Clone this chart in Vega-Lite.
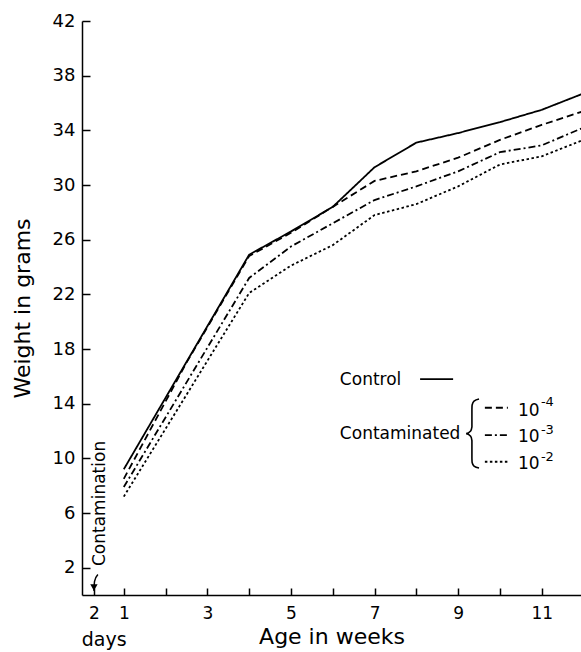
{
  "$schema": "https://vega.github.io/schema/vega-lite/v6.json",
  "autosize": {"type": "none"},
  "padding": {"left": 82, "top": 21, "right": 0, "bottom": 57},
  "width": 499,
  "height": 574,
  "background": "white",
  "config": {
    "view": {"stroke": null},
    "font": "DejaVu Sans",
    "axis": {"domainColor": "black", "tickColor": "black", "labelColor": "black", "titleColor": "black", "domainWidth": 1.5, "tickWidth": 1.5, "grid": false, "labelFont": "DejaVu Sans", "titleFont": "DejaVu Sans", "titleFontWeight": "normal", "labelFlush": false, "labelOverlap": false, "labelBound": false}
  },
  "datasets": {
    "series": [
      {"week": 1, "weight": 9.2, "group": "Control"},
      {"week": 4, "weight": 24.9, "group": "Control"},
      {"week": 5, "weight": 26.6, "group": "Control"},
      {"week": 6, "weight": 28.4, "group": "Control"},
      {"week": 7, "weight": 31.3, "group": "Control"},
      {"week": 8, "weight": 33.1, "group": "Control"},
      {"week": 9, "weight": 33.8, "group": "Control"},
      {"week": 10, "weight": 34.6, "group": "Control"},
      {"week": 11, "weight": 35.5, "group": "Control"},
      {"week": 12, "weight": 36.7, "group": "Control"},
      {"week": 1, "weight": 8.5, "group": "1e-4"},
      {"week": 2.5, "weight": 17.0, "group": "1e-4"},
      {"week": 4, "weight": 24.8, "group": "1e-4"},
      {"week": 5, "weight": 26.5, "group": "1e-4"},
      {"week": 6, "weight": 28.4, "group": "1e-4"},
      {"week": 7, "weight": 30.3, "group": "1e-4"},
      {"week": 8, "weight": 31.0, "group": "1e-4"},
      {"week": 9, "weight": 32.0, "group": "1e-4"},
      {"week": 10, "weight": 33.3, "group": "1e-4"},
      {"week": 11, "weight": 34.4, "group": "1e-4"},
      {"week": 12, "weight": 35.4, "group": "1e-4"},
      {"week": 1, "weight": 7.9, "group": "1e-3"},
      {"week": 4, "weight": 23.2, "group": "1e-3"},
      {"week": 5, "weight": 25.5, "group": "1e-3"},
      {"week": 6, "weight": 27.2, "group": "1e-3"},
      {"week": 7, "weight": 28.9, "group": "1e-3"},
      {"week": 8, "weight": 29.9, "group": "1e-3"},
      {"week": 9, "weight": 31.0, "group": "1e-3"},
      {"week": 10, "weight": 32.4, "group": "1e-3"},
      {"week": 11, "weight": 32.9, "group": "1e-3"},
      {"week": 12, "weight": 34.2, "group": "1e-3"},
      {"week": 1, "weight": 7.2, "group": "1e-2"},
      {"week": 4, "weight": 22.1, "group": "1e-2"},
      {"week": 5, "weight": 24.1, "group": "1e-2"},
      {"week": 6, "weight": 25.6, "group": "1e-2"},
      {"week": 7, "weight": 27.8, "group": "1e-2"},
      {"week": 8, "weight": 28.6, "group": "1e-2"},
      {"week": 9, "weight": 29.9, "group": "1e-2"},
      {"week": 10, "weight": 31.5, "group": "1e-2"},
      {"week": 11, "weight": 32.1, "group": "1e-2"},
      {"week": 12, "weight": 33.3, "group": "1e-2"}
    ],
    "legendLines": [
      {"group": "Control", "week": 8.09, "week2": 8.88, "weight": 15.8},
      {"group": "1e-4", "week": 9.64, "week2": 10.19, "weight": 13.7},
      {"group": "1e-3", "week": 9.64, "week2": 10.19, "weight": 11.7},
      {"group": "1e-2", "week": 9.64, "week2": 10.19, "weight": 9.75}
    ],
    "legendText": [
      {"label": "Control", "week": 6.17, "weight": 15.7},
      {"label": "Contaminated", "week": 6.17, "weight": 11.8},
      {"label": "10", "week": 10.43, "weight": 13.5},
      {"label": "10", "week": 10.43, "weight": 11.55},
      {"label": "10", "week": 10.43, "weight": 9.6}
    ],
    "exponents": [
      {"label": "-4", "week": 10.98, "weight": 14.1},
      {"label": "-3", "week": 10.98, "weight": 12.1},
      {"label": "-2", "week": 10.98, "weight": 10.1}
    ],
    "brace": [
      {"week": 9.50, "weight": 14.34, "order": 1},
      {"week": 9.38, "weight": 14.18, "order": 2},
      {"week": 9.335, "weight": 13.9, "order": 3},
      {"week": 9.33, "weight": 13.6, "order": 4},
      {"week": 9.33, "weight": 12.3, "order": 5},
      {"week": 9.30, "weight": 12.0, "order": 6},
      {"week": 9.19, "weight": 11.81, "order": 7},
      {"week": 9.30, "weight": 11.62, "order": 8},
      {"week": 9.33, "weight": 11.3, "order": 9},
      {"week": 9.33, "weight": 10.0, "order": 10},
      {"week": 9.335, "weight": 9.7, "order": 11},
      {"week": 9.38, "weight": 9.43, "order": 12},
      {"week": 9.50, "weight": 9.29, "order": 13}
    ],
    "contam": [{"label": "Contamination", "week": 0.43, "weight": 6.7}],
    "days": [{"label": "days", "week": 0.53, "weight": -3.3}],
    "arrow": [
      {"week": 0.38, "weight": 1.5, "order": 1},
      {"week": 0.30, "weight": 1.0, "order": 2},
      {"week": 0.2857, "weight": 0.3, "order": 3}
    ],
    "arrowHead": [{"week": 0.2857, "weight": 0.55}]
  },
  "encoding": {
    "x": {
      "field": "week", "type": "quantitative",
      "scale": {"domain": [0, 11.94], "nice": false, "zero": false},
      "axis": {
        "title": "Age in weeks", "titleFontSize": 22, "titlePadding": 5,
        "values": [0.2857142857, 1, 2, 3, 4, 5, 6, 7, 8, 9, 10, 11],
        "labelExpr": "datum.value < 0.5 ? '2' : (datum.value % 2 == 1 ? datum.label : '')",
        "tickSize": -7, "labelFontSize": 17, "labelPadding": 17
      }
    },
    "y": {
      "field": "weight", "type": "quantitative",
      "scale": {"domain": [0, 42], "nice": false, "zero": false},
      "axis": {
        "title": "Weight in grams", "titleFontSize": 22, "titlePadding": 18,
        "values": [2, 6, 10, 14, 18, 22, 26, 30, 34, 38, 42],
        "tickSize": -8, "labelFontSize": 18, "labelPadding": 15
      }
    }
  },
  "layer": [
    {
      "data": {"name": "series"},
      "mark": {"type": "line", "color": "black", "strokeWidth": 1.8, "clip": true},
      "encoding": {
        "detail": {"field": "group"},
        "strokeDash": {
          "field": "group", "type": "nominal",
          "scale": {"domain": ["Control", "1e-4", "1e-3", "1e-2"], "range": [[1, 0], [7, 4], [7, 3, 2, 3], [2.5, 2.5]]},
          "legend": null
        }
      }
    },
    {
      "data": {"name": "legendLines"},
      "mark": {"type": "rule", "color": "black", "strokeWidth": 1.8},
      "encoding": {
        "x2": {"field": "week2"},
        "strokeDash": {"field": "group", "type": "nominal", "legend": null}
      }
    },
    {
      "data": {"name": "legendText"},
      "mark": {"type": "text", "align": "left", "baseline": "middle", "fontSize": 17, "color": "black"},
      "encoding": {"text": {"field": "label"}}
    },
    {
      "data": {"name": "exponents"},
      "mark": {"type": "text", "align": "left", "baseline": "middle", "fontSize": 13, "color": "black"},
      "encoding": {"text": {"field": "label"}}
    },
    {
      "data": {"name": "brace"},
      "mark": {"type": "line", "color": "black", "strokeWidth": 1.6, "interpolate": "monotone"},
      "encoding": {"order": {"field": "order"}}
    },
    {
      "data": {"name": "contam"},
      "mark": {"type": "text", "align": "center", "baseline": "middle", "fontSize": 17, "angle": 270, "color": "black"},
      "encoding": {"text": {"field": "label"}}
    },
    {
      "data": {"name": "days"},
      "mark": {"type": "text", "align": "center", "baseline": "middle", "fontSize": 19, "color": "black", "clip": false},
      "encoding": {"text": {"field": "label"}}
    },
    {
      "data": {"name": "arrow"},
      "mark": {"type": "line", "color": "black", "strokeWidth": 1.5, "interpolate": "monotone"},
      "encoding": {"order": {"field": "order"}}
    },
    {
      "data": {"name": "arrowHead"},
      "mark": {"type": "point", "shape": "triangle-down", "filled": true, "color": "black", "size": 55, "opacity": 1},
      "encoding": {}
    }
  ]
}
